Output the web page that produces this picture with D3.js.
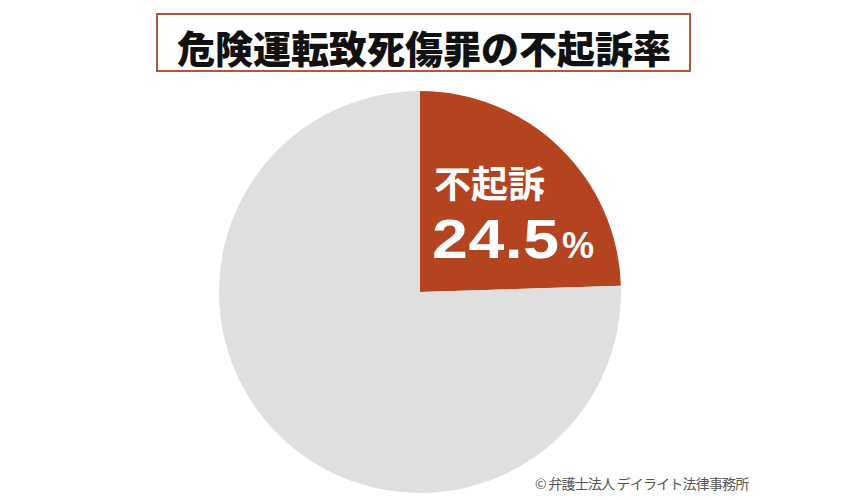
<!DOCTYPE html>
<html><head><meta charset="utf-8">
<script src="https://cdn.jsdelivr.net/npm/d3@7"></script>
<style>body{margin:0;background:#fff;} svg{display:block;}</style>
</head><body>
<svg id="c" width="850" height="500"></svg>
<script>
const title = "危険運転致死傷罪の不起訴率";
const categories = ["不起訴", "その他"];
const values = [24.5, 75.5];
const colors = ["#b4441f", "#dfdfdf"];
const credit = "© 弁護士法人 デイライト法律事務所";

const svg = d3.select("#c");
const font = "'Noto Sans CJK JP', 'Noto Sans', sans-serif";
const latin = "'Liberation Sans', Arial, sans-serif";

// title box
svg.append("rect").attr("x", 157).attr("y", 14).attr("width", 533).attr("height", 57)
  .attr("fill", "#fff").attr("stroke", "#b5553a").attr("stroke-width", 2);
svg.append("text").attr("x", 424).attr("y", 46).attr("text-anchor", "middle")
  .attr("dominant-baseline", "central").attr("font-family", font).attr("font-weight", 900)
  .attr("font-size", 38).attr("fill", "#111").text(title);

// pie
const cx = 420, cy = 292, r = 201;
const pie = d3.pie().sort(null).value(d => d)(values);
const arc = d3.arc().innerRadius(0).outerRadius(r);
const g = svg.append("g").attr("transform", `translate(${cx},${cy})`);
g.selectAll("path").data(pie).enter().append("path")
  .attr("d", arc).attr("fill", (d, i) => colors[i]);

// label
const lab = svg.append("g").attr("fill", "#fff").attr("font-weight", 700);
lab.append("text").attr("x", 434).attr("y", 198).attr("font-family", font)
  .attr("font-size", 37).text(categories[0]);
lab.append("text").attr("transform", "translate(432,258) scale(1.15,1)")
  .attr("font-family", latin).attr("font-size", 56).attr("letter-spacing", 0.5).text(values[0]);
lab.append("text").attr("x", 562).attr("y", 258).attr("font-family", latin)
  .attr("font-size", 36).text("%");

// credit
svg.append("text").attr("x", 535).attr("y", 489).attr("font-family", font)
  .attr("font-size", 14).attr("letter-spacing", -0.8).attr("fill", "#555").text(credit);
</script>
</body></html>
